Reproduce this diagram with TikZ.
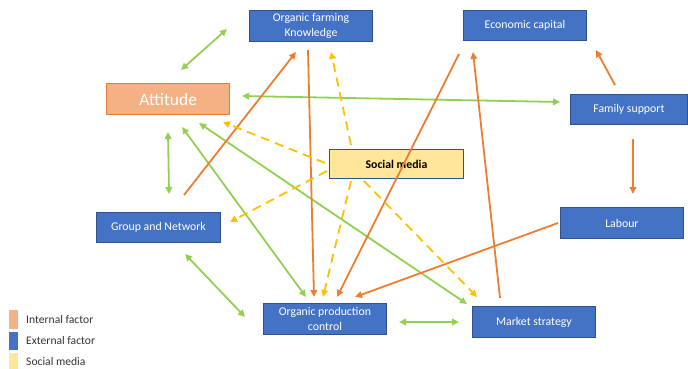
\documentclass[tikz,border=0pt]{standalone}
\usepackage{fontspec}
\setmainfont{Carlito}
\usetikzlibrary{arrows.meta}
\definecolor{extblue}{HTML}{4472C4}
\definecolor{extborder}{HTML}{2F528F}
\definecolor{intfill}{HTML}{F4B183}
\definecolor{intborder}{HTML}{E07B39}
\definecolor{smfill}{HTML}{FFE699}
\definecolor{lgreen}{HTML}{92D050}
\definecolor{lorange}{HTML}{ED7D31}
\definecolor{lyellow}{HTML}{FFC000}
\tikzset{
  box/.style={draw, line width=0.9pt, anchor=north west, inner sep=0pt, align=center,
    font=\fontsize{11.8}{14.5}\selectfont},
  ext/.style={box, fill=extblue, draw=extborder, text=white},
  intbox/.style={box, fill=intfill, draw=intborder, text=white, line width=1.3pt,
    font=\fontsize{17.5}{20}\selectfont},
  smbox/.style={box, fill=smfill, draw=extborder, text=black, font=\fontsize{11.8}{14.5}\selectfont\bfseries},
  tip/.style={Triangle[length=7pt,width=6.5pt]},
  gline/.style={draw=lgreen, line width=1.8pt, {Triangle[length=7pt,width=6.5pt]}-{Triangle[length=7pt,width=6.5pt]}},
  oline/.style={draw=lorange, line width=1.8pt, -{Triangle[length=7pt,width=6.5pt]}},
  yline/.style={draw=lyellow, line width=1.8pt, dash pattern=on 9pt off 6pt, -{Triangle[length=7pt,width=6.5pt]}},
  swatch/.style={anchor=north west, minimum width=9pt, inner sep=0pt},
  legtext/.style={anchor=west, inner sep=0pt, font=\fontsize{11.6}{14}\selectfont, text=black!80}
}
\begin{document}
\begin{tikzpicture}[x=1pt,y=-1pt]
\useasboundingbox (0,0) rectangle (688,369);
% boxes
\node[ext, minimum width=123pt, minimum height=31pt] (ofk) at (249,10) {Organic farming\\Knowledge};
\node[ext, minimum width=123pt, minimum height=30pt] (ec) at (463,10) {Economic capital};
\node[intbox, minimum width=123pt, minimum height=31pt] (att) at (106,83) {Attitude};
\node[ext, minimum width=117pt, minimum height=30pt] (fs) at (570,94) {Family support};
\node[smbox, minimum width=134pt, minimum height=29pt] (sm) at (329,149) {Social media};
\node[ext, minimum width=124pt, minimum height=30pt] (gn) at (96,212) {Group and Network};
\node[ext, minimum width=123pt, minimum height=31pt] (opc) at (263,303) {Organic production\\control};
\node[ext, minimum width=123pt, minimum height=31pt] (lab) at (560,207) {Labour};
\node[ext, minimum width=123pt, minimum height=31pt] (ms) at (472,306) {Market strategy};
% green double arrows
\draw[gline] ([shift={(75,-13)}]att.north west) -- ([shift={(-22,19)}]ofk.north west);
\draw[gline] ([shift={(136,13)}]att.north west) -- ([shift={(-10,8)}]fs.north west);
\draw[gline] ([shift={(62,49)}]att.north west) -- ([shift={(73,-18)}]gn.north west);
\draw[gline] ([shift={(76,44)}]att.north west) -- ([shift={(43,-6)}]opc.north west);
\draw[gline] ([shift={(93,40)}]att.north west) -- ([shift={(-5,-2)}]ms.north west);
\draw[gline] ([shift={(89,42)}]gn.north west) -- ([shift={(-18,14)}]opc.north west);
\draw[gline] ([shift={(136,19)}]opc.north west) -- ([shift={(-13,16)}]ms.north west);
% orange arrows
\draw[oline] ([shift={(45,-9)}]fs.north west) -- ([shift={(133,40)}]ec.north west);
\draw[oline] ([shift={(63,45)}]fs.north west) -- ([shift={(73,-13)}]lab.north west);
\draw[oline] ([shift={(-2,16)}]lab.north west) -- ([shift={(92,-6)}]opc.north west);
\draw[oline] ([shift={(28,-8)}]ms.north west) -- ([shift={(10,42)}]ec.north west);
\draw[oline] ([shift={(-4,44)}]ec.north west) -- ([shift={(74,-6)}]opc.north west);
\draw[oline] ([shift={(59,40)}]ofk.north west) -- ([shift={(51,-6)}]opc.north west);
\draw[oline] ([shift={(88,-17)}]gn.north west) -- ([shift={(47,42)}]ofk.north west);
% yellow dashed arrows
\draw[yline] ([shift={(-4,14)}]sm.north west) -- ([shift={(117,39)}]att.north west);
\draw[yline] ([shift={(22,-4)}]sm.north west) -- ([shift={(82,42)}]ofk.north west);
\draw[yline] ([shift={(-2,22)}]sm.north west) -- ([shift={(134,10)}]gn.north west);
\draw[yline] ([shift={(22,32)}]sm.north west) -- ([shift={(60,-6)}]opc.north west);
\draw[yline] ([shift={(35,32)}]sm.north west) -- ([shift={(5,-9)}]ms.north west);
% legend
\node[swatch, fill=intfill, minimum height=19pt] (l1) at (9,310) {};
\node[swatch, fill=extblue, minimum height=18pt] (l2) at (9,332) {};
\node[swatch, fill=smfill, minimum height=16pt] (l3) at (9,353) {};
\node[legtext] (t1) at (26,319.5) {Internal factor};
\node[legtext] (t2) at (26,341) {External factor};
\node[legtext] (t3) at (26,362) {Social media};
\end{tikzpicture}
\end{document}
